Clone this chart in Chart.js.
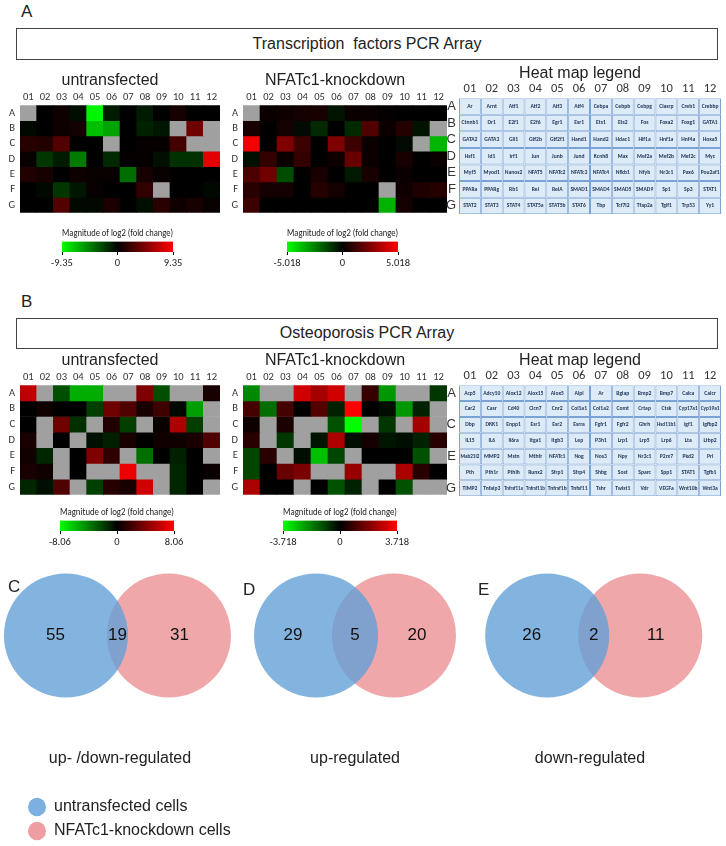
<!DOCTYPE html>
<html>
<head>
<meta charset="utf-8">
<script src="https://cdn.jsdelivr.net/npm/chart.js@4.4.1/dist/chart.umd.min.js"></script>
<style>
html, body { margin: 0; padding: 0; overflow: hidden; }
body { width: 726px; height: 846px; background: #fff; position: relative; font-family: "Liberation Sans", Arial, sans-serif; color: #222; }
canvas { position: absolute; }
.letter { position: absolute; font-size: 17px; line-height: 20px; }
.box { position: absolute; border: 1.5px solid #444; box-sizing: border-box; text-align: center; font-size: 16px; }
</style>
</head>
<body>
<div class="letter" style="left:21px;top:2px">A</div>
<div class="box" style="left:16px;top:28px;width:702px;height:32px;line-height:29px">Transcription&nbsp; factors PCR Array</div>
<div class="letter" style="left:21px;top:292px">B</div>
<div class="box" style="left:16px;top:318px;width:702px;height:31px;line-height:28px">Osteoporosis PCR Array</div>

<canvas id="tfU" width="240" height="157" style="left:0px;top:67px"></canvas>
<canvas id="tfK" width="244" height="157" style="left:223px;top:67px"></canvas>
<canvas id="tfL" width="302" height="165" style="left:439px;top:60px"></canvas>
<canvas id="tfUbar" width="151" height="45" style="left:42px;top:225px"></canvas>
<canvas id="tfKbar" width="151" height="45" style="left:267px;top:225px"></canvas>

<canvas id="opU" width="240" height="159" style="left:0px;top:347px"></canvas>
<canvas id="opK" width="244" height="159" style="left:223px;top:347px"></canvas>
<canvas id="opL" width="302" height="160" style="left:439px;top:347px"></canvas>
<canvas id="opUbar" width="154" height="45" style="left:40px;top:504px"></canvas>
<canvas id="opKbar" width="154" height="45" style="left:263px;top:504px"></canvas>

<canvas id="vennC" width="240" height="246" style="left:0px;top:526px"></canvas>
<canvas id="vennD" width="240" height="246" style="left:235px;top:526px"></canvas>
<canvas id="vennE" width="240" height="246" style="left:470px;top:526px"></canvas>
<canvas id="legend" width="240" height="130" style="left:20px;top:791px"></canvas>

<div class="letter" style="left:8px;top:577px">C</div>
<div class="letter" style="left:243px;top:580px">D</div>
<div class="letter" style="left:478px;top:580px">E</div>

<script>
// ---- data ----
const COLS = ['01', '02', '03', '04', '05', '06', '07', '08', '09', '10', '11', '12'];
const ROWS = ['A', 'B', 'C', 'D', 'E', 'F', 'G'];

// log2 fold change, null = grey (not detected)
const tfUntransfected = [
  [null, 0, 0.5, -0.5, -9, -1, 0, -1, 0, 0.8, 0, 0],
  [-0.3, 0, 0.5, 0.7, -7, -6, 0, -1.2, -0.8, null, 4, null],
  [1.5, 1.3, 3, 0, 0, null, 0, 0.3, 0.3, 2.5, null, null],
  [0.3, -2, -1, -4.5, 0, -1.5, 0.2, 0.2, -0.6, -1.8, -1.8, 8.4],
  [1.2, 0.8, 0, 0.5, 0.3, 0.3, -4, 0.8, 0.3, 0, 0, 0],
  [0, -0.3, -2, -0.8, 0.3, 0, 0, 1.8, null, 0, 0, -0.3],
  [0, 0, 3, -0.3, -0.3, 1, 0, -0.5, 1.5, 0.5, 0.8, 0.3]
];
const tfKnockdown = [
  [null, 0.2, 0.3, 0.4, 0.5, -0.4, 0.2, 0.2, 0.1, 0, 0, 0],
  [0.5, 0, 0.4, -0.2, -0.8, 0, -0.8, 1.6, 0.2, 0.7, -0.4, null],
  [4.8, 0, 2.5, 1.2, 0, 2.5, 1.2, 0.2, 0, -0.2, null, -3.6],
  [-0.3, 1.0, 0.2, 1.0, 0, 0.3, 2, 0.2, 0, 0.5, 0, 0.2],
  [1.5, 2.2, -1.5, 0, 0.5, 0, -0.5, 0.5, 0, 0.2, 0, 0],
  [0.8, 0.4, 0.4, 0, 0.7, 0.4, 0, 0, null, 0.3, 0.6, 0.7],
  [1.2, 0, 0, 0, 0, 0, 0, 0, -3.5, 0.4, 0, 0]
];
const opUntransfected = [
  [6, null, -2.5, -5.5, -5.5, null, null, 4, -2.5, null, null, 0.8],
  [0, 0.5, 0, 0, -2, 3.5, 2.5, 0.8, 2, -0.3, -5, null],
  [0, null, 3.5, -1.5, null, 1, -2, null, 0.3, 5.5, -2, null],
  [0.8, null, 0, null, -0.5, -1, 0.8, 0, 0.5, 0.5, 0.8, 2.5],
  [0.5, -1.2, null, 0, 4, 1.5, null, -3.5, 0, -1, 0, null],
  [0.8, 0.5, null, 0, null, null, 7.5, null, null, -1.2, 0, 0.3],
  [-1.2, -0.5, 2.5, null, -2, 1.2, 0.8, 6.5, null, -1.2, 0, null]
];
const opKnockdown = [
  [-2, null, null, 3, 2.4, 3, null, 0.8, -2.2, null, null, -0.8],
  [1, -1.6, 1, 0, 1.2, -0.5, 3.7, 0, -0.2, -2.2, -0.5, null],
  [0.2, null, 0.4, null, null, -1.2, -3.7, null, -0.8, null, 2.4, null],
  [0.6, null, -0.8, null, -0.3, 2.5, -0.2, 0.3, -0.3, -0.2, -0.5, 0.6],
  [-1, 0.6, null, -0.2, -2.8, -1, null, 0, 0, 0, -1.2, null],
  [-1, 0, 1.5, 1.8, null, null, 2.2, null, null, 2.5, 0.6, 0],
  [2.5, 0, 0, null, 0, -1.2, -0.5, null, 0, -1.2, null, null]
];
const tfRange = [9.35, 5.018];
const opRange = [8.06, 3.718];

const tfGenes = [
  ['Ar', 'Arnt', 'Atf1', 'Atf2', 'Atf3', 'Atf4', 'Cebpa', 'Cebpb', 'Cebpg', 'Clasrp', 'Creb1', 'Crebbp'],
  ['Ctnnb1', 'Dr1', 'E2f1', 'E2f6', 'Egr1', 'Esr1', 'Ets1', 'Ets2', 'Fos', 'Foxa2', 'Foxg1', 'GATA1'],
  ['GATA2', 'GATA3', 'Gli1', 'Gtf2b', 'Gtf2f1', 'Hand1', 'Hand2', 'Hdac1', 'Hif1a', 'Hnf1a', 'Hnf4a', 'Hoxa5'],
  ['Hsf1', 'Id1', 'Irf1', 'Jun', 'Junb', 'Jund', 'Kcnh8', 'Max', 'Mef2a', 'Mef2b', 'Mef2c', 'Myc'],
  ['Myf5', 'Myod1', 'Nanos2', 'NFAT5', 'NFATc2', 'NFATc3', 'NFATc4', 'Nfkb1', 'Nfyb', 'Nr3c1', 'Pax6', 'Pou2af1'],
  ['PPARa', 'PPARg', 'Rb1', 'Rel', 'RelA', 'SMAD1', 'SMAD4', 'SMAD5', 'SMAD9', 'Sp1', 'Sp3', 'STAT1'],
  ['STAT2', 'STAT3', 'STAT4', 'STAT5a', 'STAT5b', 'STAT6', 'Tbp', 'Tcf7l2', 'Tfap2a', 'Tgif1', 'Trp53', 'Yy1']
];
const opGenes = [
  ['Acp5', 'Adcy10', 'Alox12', 'Alox15', 'Alox5', 'Alpl', 'Ar', 'Bglap', 'Bmp2', 'Bmp7', 'Calca', 'Calcr'],
  ['Car2', 'Casr', 'Cd40', 'Clcn7', 'Cnr2', 'Col1a1', 'Col1a2', 'Comt', 'Crtap', 'Ctsk', 'Cyp17a1', 'Cyp19a1'],
  ['Dbp', 'DKK1', 'Enpp1', 'Esr1', 'Esr2', 'Esrra', 'Fgfr1', 'Fgfr2', 'Ghrh', 'Hsd11b1', 'Igf1', 'Igfbp2'],
  ['IL15', 'IL6', 'Il6ra', 'Itga1', 'Itgb3', 'Lep', 'P3h1', 'Lrp1', 'Lrp5', 'Lrp6', 'Lta', 'Ltbp2'],
  ['Mab21l2', 'MMP2', 'Mstn', 'Mthfr', 'NFATc1', 'Nog', 'Nos3', 'Npy', 'Nr3c1', 'P2rx7', 'Pkd2', 'Prl'],
  ['Pth', 'Pth1r', 'Pthlh', 'Runx2', 'Sfrp1', 'Sfrp4', 'Shbg', 'Sost', 'Sparc', 'Spp1', 'STAT1', 'Tgfb1'],
  ['TIMP2', 'Tnfaip3', 'Tnfrsf11a', 'Tnfrsf11b', 'Tnfrsf1b', 'Tnfsf11', 'Tshr', 'Twist1', 'Vdr', 'VEGFa', 'Wnt10b', 'Wnt3a']
];

const vennCaptions = ['up- /down-regulated', 'up-regulated', 'down-regulated'];
const vennUntransfectedOnly = [55, 29, 26];
const vennShared = [19, 5, 2];
const vennKnockdownOnly = [31, 20, 11];
const seriesNames = ['untransfected cells', 'NFATc1-knockdown cells'];

// ---- styling ----
const SANS = '"Liberation Sans", Arial, sans-serif';
const SMALL = 'Carlito, Lato, "Open Sans", sans-serif';
const BLUE = 'rgba(100, 160, 215, 0.8)';
const PINK = 'rgba(225, 95, 100, 0.55)';
const BLUE_SOLID = '#7bb0e0';
const PINK_SOLID = '#ee9da0';
const GREY = '#a0a0a0';
// horizontal extent of each venn canvas in circle-spacing units
const vennXRange = [[-0.64, 1.69], [-1.04, 2.04], [-0.83, 1.75]];

Chart.defaults.font.family = SANS;
Chart.defaults.color = '#222';
Chart.defaults.animation = false;

function foldColor(v, max) {
  if (v === null) return GREY;
  const c = Math.round(255 * Math.min(1, Math.abs(v) / max));
  return v < 0 ? `rgb(0,${c},0)` : `rgb(${c},0,0)`;
}

const cellText = {
  id: 'cellText',
  afterDatasetsDraw(chart, args, opts) {
    if (!opts.names) return;
    const ctx = chart.ctx;
    ctx.save();
    ctx.font = 'bold 5.6px ' + SMALL;
    ctx.fillStyle = '#1d3557';
    ctx.textAlign = 'center';
    ctx.textBaseline = 'middle';
    chart.data.datasets.forEach((ds, i) => {
      chart.getDatasetMeta(i).data.forEach((bar, j) => {
        const p = bar.getProps(['x', 'y', 'base', 'width'], true);
        ctx.fillText(opts.names[i][j], p.x, (p.y + p.base) / 2, p.width - 3);
      });
    });
    ctx.restore();
  }
};

function gridChart(id, title, colors, opts) {
  const o = opts || {};
  return new Chart(document.getElementById(id), {
    type: 'bar',
    data: {
      labels: COLS,
      datasets: ROWS.map((r, i) => ({
        label: r,
        data: COLS.map(() => 1),
        backgroundColor: colors[i],
        borderWidth: o.border ? 1 : 0,
        borderColor: '#7aa3d3',
        borderSkipped: false,
        inflateAmount: o.border ? 0 : 'auto',
        barPercentage: 1,
        categoryPercentage: 1
      }))
    },
    plugins: o.names ? [cellText] : [],
    options: {
      responsive: false,
      devicePixelRatio: 1,
      layout: { padding: { left: 0, right: 20, top: 0, bottom: 0 } },
      plugins: {
        legend: { display: false },
        tooltip: { enabled: false },
        title: { display: true, text: title, font: { size: 16, weight: 'normal' }, color: '#222', padding: { top: 4, bottom: 0 } },
        cellText: { names: o.names }
      },
      scales: {
        x: {
          stacked: true, position: 'top',
          grid: { display: false, drawTicks: false }, border: { display: false },
          ticks: { font: { size: o.names ? 12.5 : 10.5, family: SMALL }, color: '#333', padding: 2, maxRotation: 0, autoSkip: false },
          afterFit: s => { s.height = 15; }
        },
        y: {
          stacked: true, reverse: true, min: 0, max: 7,
          grid: { display: false, drawTicks: false }, border: { display: false },
          afterBuildTicks: s => { s.ticks = ROWS.map((r, i) => ({ value: i + 0.5 })); },
          ticks: {
            callback: v => ROWS[Math.floor(v)],
            font: o.names ? { size: 13, family: SANS } : { size: 10.5, family: SMALL },
            color: '#333', padding: o.names ? 3 : 5
          },
          afterFit: s => { s.width = 20; }
        }
      }
    }
  });
}

function heatChart(id, title, values, max) {
  return gridChart(id, title, values.map(row => row.map(v => foldColor(v, max))));
}

function legendTable(id, names) {
  return gridChart(id, 'Heat map legend', names.map(row => row.map(() => '#ddeaf7')),
    { border: true, names: names });
}

function colorBar(id, max) {
  return new Chart(document.getElementById(id), {
    type: 'bar',
    data: {
      labels: [''],
      datasets: [{
        data: [[-max, max]],
        barPercentage: 1, categoryPercentage: 1, borderWidth: 0,
        backgroundColor: ctx => {
          const area = ctx.chart.chartArea;
          if (!area) return '#000';
          const g = ctx.chart.ctx.createLinearGradient(area.left, 0, area.right, 0);
          g.addColorStop(0, '#00ff00');
          g.addColorStop(0.5, '#000000');
          g.addColorStop(1, '#ff0000');
          return g;
        }
      }]
    },
    options: {
      indexAxis: 'y',
      responsive: false,
      devicePixelRatio: 1,
      layout: { padding: { left: 20, right: 20, top: 0, bottom: 0 } },
      plugins: {
        legend: { display: false },
        tooltip: { enabled: false },
        title: { display: true, text: 'Magnitude of log2 (fold change)', font: { size: 10.5, family: SMALL, weight: 'normal' }, color: '#222', padding: { top: 2, bottom: 2 } }
      },
      scales: {
        x: {
          type: 'linear', min: -max, max: max,
          afterBuildTicks: s => { s.ticks = [-max, 0, max].map(v => ({ value: v })); },
          grid: { drawOnChartArea: false, drawTicks: true, tickLength: 3, color: '#000' },
          border: { display: false },
          ticks: { callback: v => String(v), font: { size: 10.5, family: SMALL }, color: '#222', padding: 2, autoSkip: false, maxRotation: 0 },
          afterFit: s => { s.height = 18; }
        },
        y: { display: false }
      }
    }
  });
}

const vennCounts = {
  id: 'vennCounts',
  afterDatasetsDraw(chart, args, opts) {
    const a = chart.getDatasetMeta(0).data[0];
    const b = chart.getDatasetMeta(1).data[0];
    const r = chart.data.datasets[0].pointRadius;
    const mid = (a.x + b.x) / 2;
    const ctx = chart.ctx;
    ctx.save();
    ctx.font = '17px ' + SANS;
    ctx.fillStyle = '#111';
    ctx.textAlign = 'center';
    ctx.textBaseline = 'middle';
    ctx.fillText(String(opts.counts[0]), mid - r, a.y);
    ctx.fillText(String(opts.counts[1]), mid, a.y);
    ctx.fillText(String(opts.counts[2]), mid + r, a.y);
    ctx.restore();
  }
};

function vennChart(id, k) {
  return new Chart(document.getElementById(id), {
    type: 'scatter',
    data: {
      datasets: [
        { label: seriesNames[0], data: [{ x: 0, y: 0 }], backgroundColor: BLUE, borderWidth: 0, pointRadius: 62, clip: false },
        { label: seriesNames[1], data: [{ x: 1, y: 0 }], backgroundColor: PINK, borderWidth: 0, pointRadius: 62, clip: false }
      ]
    },
    plugins: [vennCounts],
    options: {
      responsive: false,
      devicePixelRatio: 1,
      layout: { padding: 0, autoPadding: false },
      plugins: {
        legend: { display: false },
        tooltip: { enabled: false },
        title: { display: true, position: 'bottom', text: vennCaptions[k], font: { size: 16, weight: 'normal' }, color: '#222', padding: { top: 4, bottom: 4 } },
        vennCounts: { counts: [vennUntransfectedOnly[k], vennShared[k], vennKnockdownOnly[k]] }
      },
      scales: {
        x: { type: 'linear', min: vennXRange[k][0], max: vennXRange[k][1], display: false },
        y: { type: 'linear', min: -1, max: 1, display: false }
      }
    }
  });
}

heatChart('tfU', 'untransfected', tfUntransfected, tfRange[0]);
heatChart('tfK', 'NFATc1-knockdown', tfKnockdown, tfRange[1]);
legendTable('tfL', tfGenes);
colorBar('tfUbar', tfRange[0]);
colorBar('tfKbar', tfRange[1]);

heatChart('opU', 'untransfected', opUntransfected, opRange[0]);
heatChart('opK', 'NFATc1-knockdown', opKnockdown, opRange[1]);
legendTable('opL', opGenes);
colorBar('opUbar', opRange[0]);
colorBar('opKbar', opRange[1]);

vennChart('vennC', 0);
vennChart('vennD', 1);
vennChart('vennE', 2);

new Chart(document.getElementById('legend'), {
  type: 'bar',
  data: {
    labels: [],
    datasets: [
      { label: seriesNames[0], data: [], backgroundColor: BLUE_SOLID, borderWidth: 0 },
      { label: seriesNames[1], data: [], backgroundColor: PINK_SOLID, borderWidth: 0 }
    ]
  },
  options: {
    responsive: false,
    devicePixelRatio: 1,
    layout: { padding: 0 },
    plugins: {
      tooltip: { enabled: false },
      legend: {
        position: 'top', align: 'start',
        labels: { usePointStyle: true, pointStyle: 'circle', boxHeight: 13, pointStyleWidth: 18, padding: 8, font: { size: 16 }, color: '#222' }
      }
    },
    scales: { x: { display: false }, y: { display: false } }
  }
});
</script>
</body>
</html>
